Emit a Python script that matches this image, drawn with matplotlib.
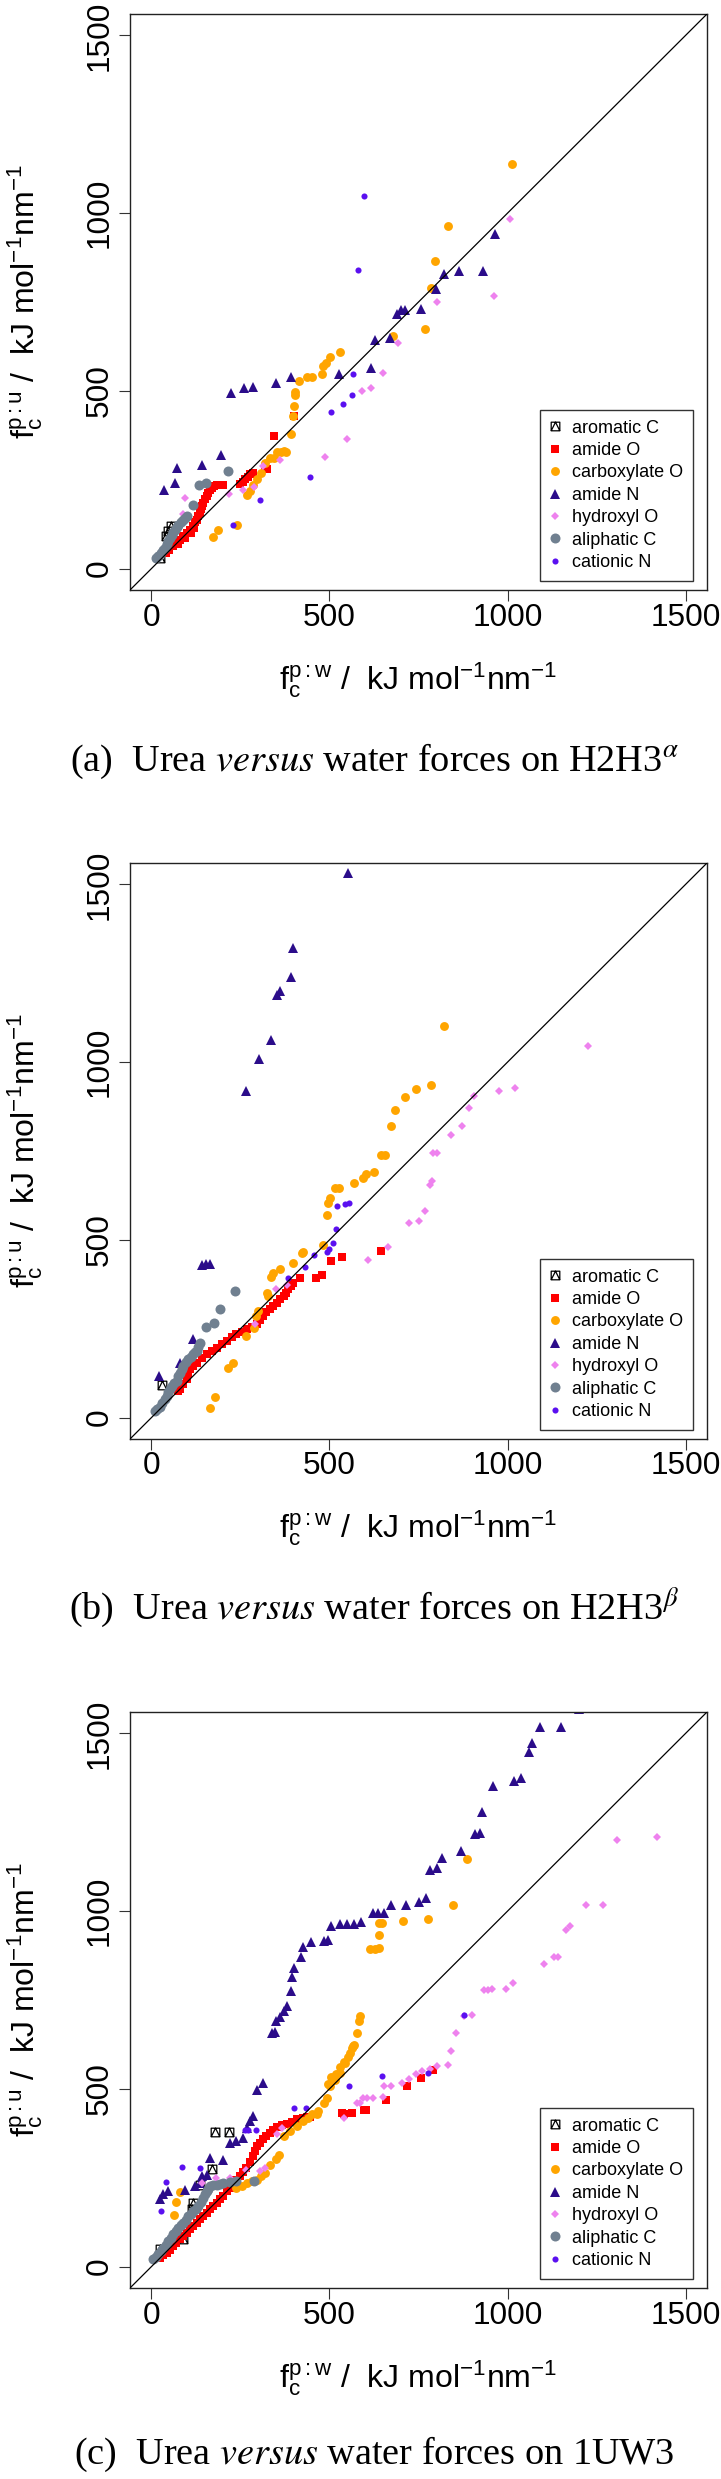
import matplotlib
matplotlib.use('Agg')
import matplotlib.pyplot as plt
from matplotlib.path import Path
from matplotlib.lines import Line2D

plt.rcParams['font.family'] = ['Liberation Sans', 'DejaVu Sans']
plt.rcParams['mathtext.fontset'] = 'custom'
plt.rcParams['mathtext.rm'] = 'Liberation Sans'
plt.rcParams['mathtext.it'] = 'Liberation Sans'
plt.rcParams['mathtext.bf'] = 'Liberation Sans:bold'
plt.rcParams['mathtext.sf'] = 'Liberation Sans'

categories = ["aromatic C", "amide O", "carboxylate O", "amide N",
              "hydroxyl O", "aliphatic C", "cationic N"]
ticks = [0, 500, 1000, 1500]
tick_labels = ["0", "500", "1000", "1500"]
captions = [r"(a)  Urea $\mathit{versus}$ water forces on H2H3$^{\alpha}$",
            r"(b)  Urea $\mathit{versus}$ water forces on H2H3$^{\beta}$",
            r"(c)  Urea $\mathit{versus}$ water forces on 1UW3"]

# ---------------- panel (a) H2H3 alpha ----------------
a_aromC_x = [25, 42, 48, 54]
a_aromC_y = [31, 91, 105, 119]
a_amO_x = [42, 50, 61, 70, 75, 80, 90, 95, 99, 108, 110, 117, 120, 122, 127, 131, 136, 139, 141, 146,
           150, 155, 160, 165, 169, 176, 183, 192, 202, 249, 256, 263, 270, 277, 286, 318, 324, 343, 401]
a_amO_y = [45, 52, 63, 72, 70, 82, 92, 85, 101, 110, 100, 120, 115, 130, 138, 147, 157, 167, 176, 186,
           195, 204, 213, 221, 227, 232, 234, 235, 235, 237, 244, 251, 258, 265, 270, 279, 281, 373, 429]
a_carbO_x = [174, 188, 241, 269, 277, 286, 296, 307, 319, 333, 343, 352, 363, 372, 378, 391, 399, 401,
             403, 404, 415, 438, 451, 479, 483, 489, 502, 531, 679, 769, 785, 796, 834, 1013]
a_carbO_y = [89, 110, 124, 206, 218, 234, 251, 270, 298, 312, 312, 328, 327, 331, 327, 380, 430, 457,
             489, 497, 528, 538, 538, 547, 570, 579, 595, 608, 653, 674, 789, 864, 965, 1139]
a_amN_x = [36, 67, 72, 143, 195, 224, 260, 284, 350, 391, 528, 616, 629, 670, 689, 701, 711, 756,
           798, 821, 864, 931, 966]
a_amN_y = [220, 240, 283, 292, 320, 495, 509, 512, 521, 538, 547, 564, 644, 648, 715, 727, 727, 731,
           786, 828, 837, 838, 941]
a_hydO_x = [89, 95, 218, 256, 289, 314, 361, 488, 549, 592, 618, 650, 693, 802, 963, 1006]
a_hydO_y = [155, 199, 211, 222, 231, 289, 306, 314, 364, 499, 508, 551, 634, 751, 767, 983]
a_aliC_x = [12, 20, 28, 33, 38, 43, 47, 52, 57, 62, 66, 71, 75, 82, 89, 94, 99, 117, 133, 153, 214]
a_aliC_y = [30, 36, 45, 52, 59, 68, 77, 87, 96, 103, 110, 117, 124, 131, 138, 143, 148, 178, 235, 241, 276]
a_catN_x = [230, 305, 445, 505, 539, 562, 567, 579, 596]
a_catN_y = [124, 193, 257, 440, 462, 489, 547, 840, 1047]

# ---------------- panel (b) H2H3 beta ----------------
b_aromC_x = [30]
b_aromC_y = [91]
b_amO_x = [75, 80, 89, 99, 104, 108, 118, 127, 141, 155, 169, 183, 197, 211, 225, 239, 254, 268, 282,
           296, 305, 314, 323, 333, 342, 352, 361, 371, 378, 385, 392, 399, 418, 463, 479, 505, 535, 644]
b_amO_y = [76, 80, 94, 108, 122, 136, 146, 155, 167, 179, 188, 197, 206, 216, 226, 235, 242, 249, 256,
           263, 275, 286, 296, 305, 314, 323, 333, 342, 352, 361, 371, 380, 392, 392, 400, 440, 451, 469]
b_carbO_x = [166, 178, 214, 228, 266, 288, 294, 300, 326, 328, 335, 342, 360, 399, 423, 427, 483, 493,
             497, 502, 515, 527, 568, 595, 602, 625, 644, 657, 672, 683, 711, 744, 785, 821]
b_carbO_y = [28, 58, 139, 155, 229, 253, 286, 300, 350, 341, 397, 408, 419, 436, 463, 465, 485, 571,
             605, 617, 645, 645, 659, 674, 684, 690, 740, 740, 821, 864, 902, 923, 937, 1102]
b_amN_x = [22, 80, 116, 141, 154, 166, 265, 301, 335, 353, 361, 391, 397, 552]
b_amN_y = [116, 155, 222, 428, 431, 431, 920, 1010, 1061, 1190, 1200, 1239, 1321, 1533]
b_hydO_x = [291, 350, 380, 607, 664, 724, 750, 769, 783, 789, 791, 802, 840, 873, 892, 907, 976, 1021, 1225]
b_hydO_y = [263, 362, 372, 443, 479, 548, 552, 580, 655, 667, 745, 745, 795, 821, 871, 906, 918, 927, 1046]
b_aliC_x = [10, 17, 24, 31, 38, 43, 47, 52, 57, 64, 71, 76, 80, 85, 89, 96, 103, 110, 117, 122, 127,
            131, 136, 153, 176, 194, 235]
b_aliC_y = [20, 24, 29, 40, 52, 62, 71, 80, 90, 97, 104, 116, 127, 137, 146, 156, 165, 172, 179, 184, 188,
            200, 211, 255, 265, 305, 357]
b_catN_x = [385, 431, 456, 493, 500, 510, 518, 521, 544, 555]
b_catN_y = [394, 425, 458, 465, 473, 490, 532, 596, 601, 604]

# ---------------- panel (c) 1UW3 ----------------
c_aromC_x = [24, 89, 113, 117, 136, 170, 178, 217]
c_aromC_y = [49, 77, 161, 178, 231, 275, 380, 380]
c_amO_x = [24, 34, 43, 52, 61, 70, 80, 89, 99, 108, 117, 127, 136, 146, 155, 164, 174, 183, 193, 202,
           211, 221, 230, 239, 249, 258, 267, 277, 286, 291, 296, 305, 314, 323, 333, 342, 352, 366,
           380, 394, 408, 418, 427, 437, 446, 534, 540, 563, 596, 602, 660, 718, 756, 791]
c_amO_y = [25, 32, 39, 48, 58, 67, 77, 86, 95, 105, 114, 124, 133, 142, 152, 161, 170, 180, 189, 200,
           212, 221, 231, 243, 255, 266, 278, 295, 311, 325, 339, 349, 358, 367, 376, 385, 393, 398,
           400, 407, 414, 416, 418, 420, 421, 432, 428, 432, 442, 441, 470, 507, 530, 554]
c_carbO_x = [63, 70, 80, 239, 254, 268, 282, 296, 308, 319, 333, 350, 359, 372, 389, 408, 427, 440, 450,
             466, 469, 486, 493, 496, 502, 505, 516, 518, 530, 531, 541, 544, 553, 558, 563, 567, 569,
             576, 582, 586, 614, 627, 638, 638, 640, 647, 707, 778, 847, 886]
c_carbO_y = [145, 183, 210, 222, 228, 234, 240, 245, 255, 264, 287, 303, 315, 367, 381, 397, 409, 418, 428,
             429, 437, 461, 475, 514, 507, 534, 526, 541, 545, 561, 575, 573, 589, 601, 616, 620, 623,
             657, 691, 705, 893, 893, 896, 934, 967, 967, 973, 978, 1018, 1146]
c_amN_x = [24, 33, 47, 94, 122, 136, 141, 155, 164, 202, 221, 239, 258, 268, 277, 286, 296, 314, 340,
           347, 350, 360, 373, 382, 391, 394, 401, 421, 427, 449, 485, 495, 505, 531, 550, 569, 589,
           621, 636, 653, 673, 715, 752, 772, 782, 802, 817, 869, 909, 924, 928, 960, 1019, 1038, 1060,
           1070, 1092, 1150, 1200]
c_amN_y = [191, 203, 212, 217, 227, 236, 255, 259, 306, 301, 348, 353, 362, 390, 409, 423, 498, 517, 657,
           660, 691, 702, 719, 732, 776, 814, 841, 871, 900, 913, 916, 919, 957, 964, 964, 964, 968,
           994, 994, 994, 1016, 1016, 1025, 1036, 1117, 1121, 1148, 1169, 1216, 1219, 1278, 1353, 1366,
           1373, 1448, 1473, 1519, 1519, 1568]
c_hydO_x = [141, 181, 221, 267, 305, 319, 352, 366, 540, 576, 586, 595, 605, 621, 650, 653, 673, 705, 724,
            744, 760, 782, 802, 834, 840, 856, 879, 899, 933, 944, 957, 995, 1015, 1102, 1131, 1143,
            1163, 1176, 1221, 1269, 1308, 1421]
c_hydO_y = [236, 250, 250, 273, 269, 278, 372, 390, 417, 459, 461, 473, 475, 473, 477, 507, 507, 516, 527,
            541, 550, 557, 565, 568, 606, 657, 705, 709, 777, 777, 780, 780, 797, 850, 871, 871,
            947, 957, 1018, 1018, 1200, 1209]
c_aliC_x = [5, 12, 19, 26, 33, 40, 47, 54, 61, 68, 75, 82, 89, 96, 103, 110, 117, 124, 131, 138, 146,
            150, 155, 160, 164, 173, 183, 192, 202, 220, 239, 288]
c_aliC_y = [21, 28, 35, 44, 53, 62, 72, 81, 91, 100, 110, 116, 123, 132, 142, 149, 156, 163, 170, 182, 194,
            203, 212, 219, 226, 229, 231, 233, 234, 237, 241, 241]
c_catN_x = [28, 42, 85, 136, 263, 272, 294, 401, 434, 554, 647, 776, 879]
c_catN_y = [156, 238, 280, 278, 384, 384, 384, 447, 447, 507, 536, 545, 709]

panels = [
    [(a_aromC_x, a_aromC_y), (a_amO_x, a_amO_y), (a_carbO_x, a_carbO_y), (a_amN_x, a_amN_y),
     (a_hydO_x, a_hydO_y), (a_aliC_x, a_aliC_y), (a_catN_x, a_catN_y)],
    [(b_aromC_x, b_aromC_y), (b_amO_x, b_amO_y), (b_carbO_x, b_carbO_y), (b_amN_x, b_amN_y),
     (b_hydO_x, b_hydO_y), (b_aliC_x, b_aliC_y), (b_catN_x, b_catN_y)],
    [(c_aromC_x, c_aromC_y), (c_amO_x, c_amO_y), (c_carbO_x, c_carbO_y), (c_amN_x, c_amN_y),
     (c_hydO_x, c_hydO_y), (c_aliC_x, c_aliC_y), (c_catN_x, c_catN_y)],
]

# aromatic C marker: square with an inscribed triangle (R pch 14)
arom_path = Path([(-1, -1), (1, -1), (1, 1), (-1, 1), (-1, -1), (-1, -1), (0, 1), (1, -1)],
                 [Path.MOVETO, Path.LINETO, Path.LINETO, Path.LINETO, Path.CLOSEPOLY,
                  Path.MOVETO, Path.LINETO, Path.LINETO])

styles = [
    dict(marker=arom_path, ms=6.2, mfc='none', mec='black', mew=0.9),
    dict(marker='s', ms=6.0, mfc='#FF0000', mec='#FF0000', mew=0),
    dict(marker='o', ms=6.4, mfc='#FFA500', mec='#FFA500', mew=0),
    dict(marker='^', ms=7.8, mfc='#2B0C8A', mec='#2B0C8A', mew=0),
    dict(marker='D', ms=4.0, mfc='#EE82EE', mec='#EE82EE', mew=0),
    dict(marker='o', ms=7.2, mfc='#708090', mec='#708090', mew=0),
    dict(marker='o', ms=4.4, mfc='#5A10F0', mec='#5A10F0', mew=0),
]

W, H = 721, 2479
fig = plt.figure(figsize=(W / 100, H / 100), dpi=100)
tops = [14, 863, 1712]
ax_left, ax_w, ax_h = 130, 577, 576

for p, top in enumerate(tops):
    ax = fig.add_axes([ax_left / W, 1 - (top + ax_h) / H, ax_w / W, ax_h / H])
    for (xs, ys), st in zip(panels[p], styles):
        ax.plot(xs, ys, ls='none', **st)
    ax.axline((0, 0), slope=1, color='black', lw=0.9, zorder=5)
    ax.set_xlim(-60, 1560)
    ax.set_ylim(-60, 1560)
    ax.set_xticks(ticks)
    ax.set_xticklabels(tick_labels)
    ax.set_yticks(ticks)
    ax.set_yticklabels(tick_labels)
    ax.tick_params(axis='both', direction='out', length=8, width=0.8, labelsize=22.7, color='#333333')
    ax.tick_params(axis='x', pad=1.0)
    ax.tick_params(axis='y', pad=3.0, labelrotation=90)
    for lab in ax.get_yticklabels():
        lab.set_va('center')
    for sp in ax.spines.values():
        sp.set_linewidth(1.0)
        sp.set_color('#222222')

    handles = [Line2D([], [], ls='none', **st) for st in styles]
    leg = ax.legend(handles, categories, loc='lower right', bbox_to_anchor=(0.976, 0.0156),
                    fontsize=13, frameon=True, fancybox=False, edgecolor='black',
                    borderpad=0.55, handlelength=0.65, handletextpad=0.6, labelspacing=0.3,
                    borderaxespad=0, numpoints=1)
    leg.get_frame().set_linewidth(1.0)

    bottom = top + ax_h
    fig.text((ax_left + ax_w / 2) / W, 1 - (bottom + 99) / H,
             r'$\mathregular{f_c^{p:w}}$ /  kJ mol$^{-1}$nm$^{-1}$',
             ha='center', va='baseline', fontsize=23)
    fig.text(34.5 / W, 1 - (top + ax_h / 2) / H,
             r'$\mathregular{f_c^{p:u}}$ /  kJ mol$^{-1}$nm$^{-1}$',
             ha='center', va='baseline', rotation=90, rotation_mode='anchor', fontsize=23)

cap_base = [771, 1619, 2464]
for cap, yb in zip(captions, cap_base):
    fig.text(374 / W, 1 - yb / H, cap, ha='center', va='baseline', fontsize=27.5,
             family=['Liberation Serif'], math_fontfamily='stix')

fig.savefig('out.png', dpi=100)
